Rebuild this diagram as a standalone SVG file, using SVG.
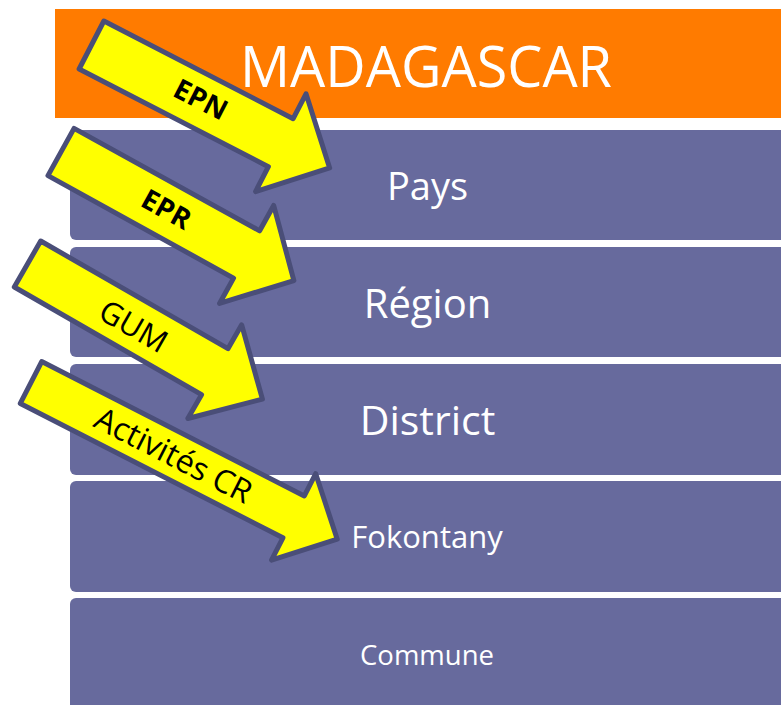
<svg xmlns="http://www.w3.org/2000/svg" width="781" height="705" viewBox="0 0 781 705">
<style>
.box{fill:#676a9d}
.lbl{fill:#ffffff;font-family:"Open Sans","Noto Sans",sans-serif;text-anchor:middle}
.arrow{fill:#ffff00;stroke:#4a4e78;stroke-width:5;stroke-linejoin:round}
.alb{fill:#000000;font-family:"Open Sans","Noto Sans",sans-serif;text-anchor:middle}
</style>
<rect x="0" y="0" width="781" height="705" fill="#ffffff"/>
<g id="madagascar">
<rect x="55" y="9" width="740" height="109" fill="#ff7b00"/>
<text class="lbl" x="426" y="87" font-size="57" textLength="372" lengthAdjust="spacingAndGlyphs">MADAGASCAR</text>
</g>
<g id="pays">
<rect class="box" x="70" y="130" width="730" height="110" rx="6"/>
<text class="lbl" x="427.5" y="200" font-size="38">Pays</text>
</g>
<g id="region">
<rect class="box" x="70" y="247" width="730" height="110" rx="6"/>
<text class="lbl" x="427.5" y="318" font-size="40">Région</text>
</g>
<g id="district">
<rect class="box" x="70" y="364" width="730" height="111" rx="6"/>
<text class="lbl" x="427.5" y="435" font-size="41">District</text>
</g>
<g id="fokontany">
<rect class="box" x="70" y="481" width="730" height="111" rx="6"/>
<text class="lbl" x="427" y="548" font-size="31">Fokontany</text>
</g>
<g id="commune">
<rect class="box" x="70" y="598" width="730" height="115" rx="6"/>
<text class="lbl" x="427" y="665" font-size="27.5">Commune</text>
</g>
<g id="arrows">
<g id="arrow-epn" transform="translate(91.5,45) rotate(27.3)">
<polygon class="arrow" points="0,-27 213,-27 213,-55 268,0 213,55 213,27 0,27"/>
<text class="alb" x="122" y="8" font-size="28" font-weight="bold">EPN</text>
</g>
<g id="arrow-epr" transform="translate(61,152) rotate(28.9)">
<polygon class="arrow" points="0,-27 212,-27 212,-56 266,0 212,56 212,27 0,27"/>
<text class="alb" x="120" y="9" font-size="28" font-weight="bold">EPR</text>
</g>
<g id="arrow-gum" transform="translate(27.5,264) rotate(29.9)">
<polygon class="arrow" points="0,-26.5 216,-26.5 216,-54 271,0 216,54 216,26.5 0,26.5"/>
<text class="alb" x="123" y="12" font-size="31">GUM</text>
</g>
<g id="arrow-activites" transform="translate(31,382.5) rotate(27.1)">
<polygon class="arrow" points="0,-23.5 295,-23.5 295,-48.5 344,0 295,48.5 295,23.5 0,23.5"/>
<text class="alb" x="160" y="11" font-size="32">Activités CR</text>
</g>
</g>
</svg>
